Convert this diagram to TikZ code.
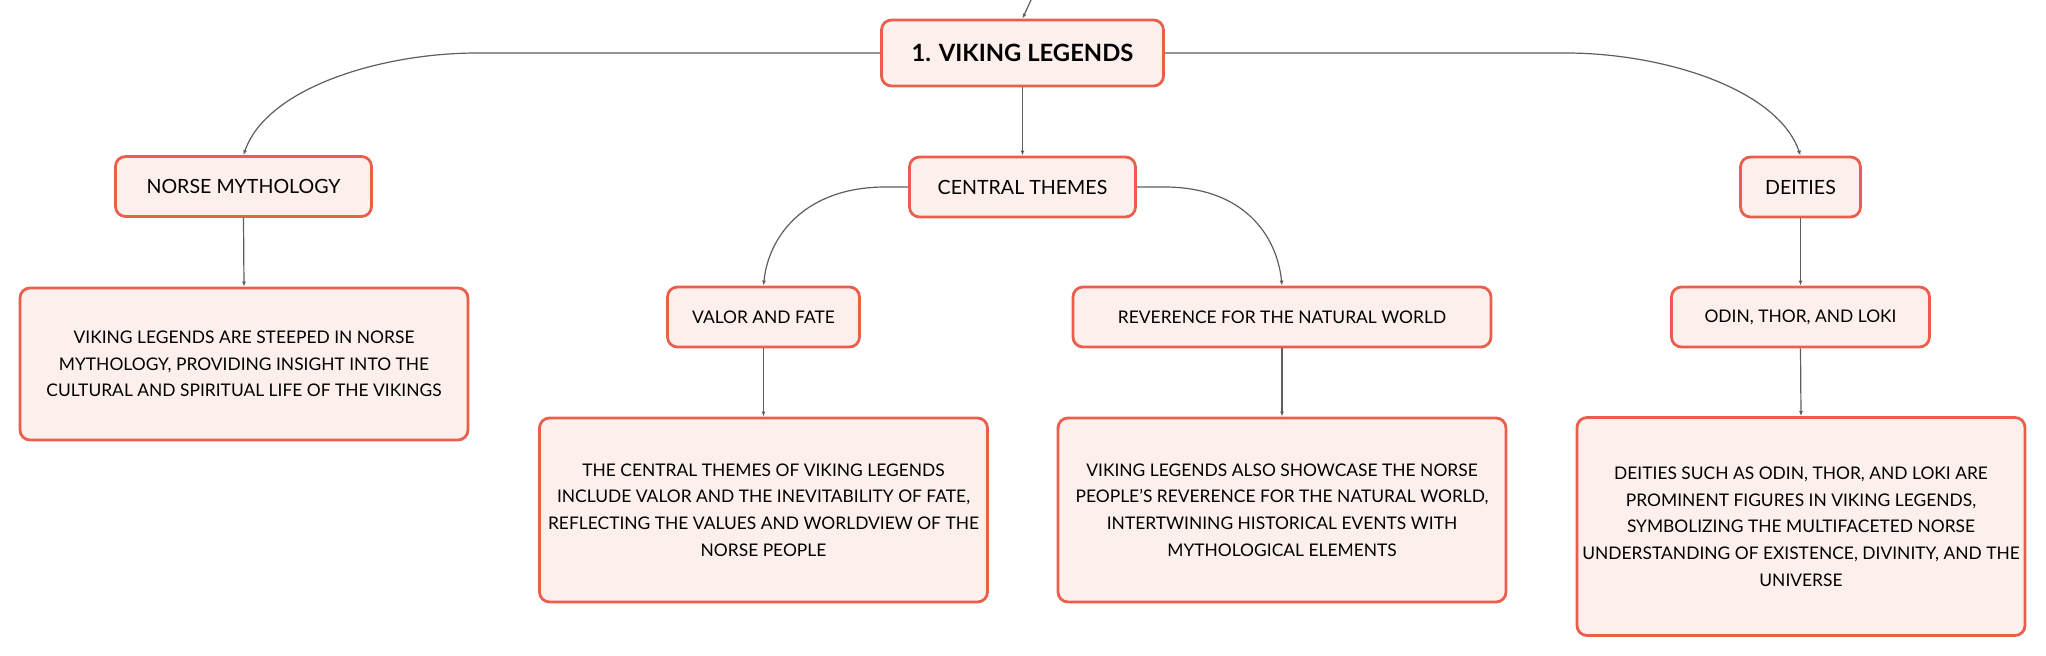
\documentclass[tikz,border=0pt]{standalone}
\usepackage{fontspec}
\setmainfont{Lato}
\usetikzlibrary{positioning, arrows.meta, calc}

\definecolor{boxline}{HTML}{EA5F4B}
\definecolor{boxfill}{HTML}{FDF0EC}
\definecolor{linkgray}{HTML}{5E5E5E}

\begin{document}
\begin{tikzpicture}[
            x=0.5pt, y=-0.5pt,
            block/.style={rectangle, draw=boxline, fill=boxfill, line width=1.4pt, rounded corners=5pt, inner sep=0pt, align=center, text=black},
            rootbox/.style={block, font=\fontsize{11.9}{14}\selectfont\bfseries},
            topic/.style={block, font=\fontsize{9.8}{13}\selectfont},
            leaf/.style={block, font=\fontsize{8.7}{13.35}\selectfont},
            arrow/.style={-{Latex[length=2.5pt, width=2pt]}, draw=linkgray, line width=0.6pt}
        ]
        \useasboundingbox (0,0) rectangle (2046,656);

        % Define the main topic and its branches
        \coordinate (up) at (1031,0);
        \node[rootbox, minimum width=141pt, minimum height=33pt] (legends) at (1022.5,53) {1. VIKING LEGENDS};
        \node[topic, minimum width=128pt, minimum height=30pt] (norse) at (243.5,186.5) {NORSE MYTHOLOGY};
        \node[topic, minimum width=113pt, minimum height=30pt] (themes) at (1022.5,187) {CENTRAL THEMES};
        \node[topic, minimum width=60pt, minimum height=30pt] (deities) at (1800.5,187) {DEITIES};

        % Second level
        \node[leaf, minimum width=96pt, minimum height=30pt] (valor) at (763.5,317) {VALOR AND FATE};
        \node[leaf, minimum width=209pt, minimum height=30pt] (nature) at (1282,317) {REVERENCE FOR THE NATURAL WORLD};
        \node[leaf, minimum width=129pt, minimum height=30pt] (gods) at (1800.5,317) {ODIN, THOR, AND LOKI};

        % Description boxes
        \node[leaf, minimum width=224pt, minimum height=76pt] (norsetext) at (244,364)
            {VIKING LEGENDS ARE STEEPED IN NORSE\\MYTHOLOGY, PROVIDING INSIGHT INTO THE\\CULTURAL AND SPIRITUAL LIFE OF THE VIKINGS};
        \node[leaf, minimum width=224pt, minimum height=92pt] (valortext) at (763.5,510)
            {THE CENTRAL THEMES OF VIKING LEGENDS\\INCLUDE VALOR AND THE INEVITABILITY OF FATE,\\REFLECTING THE VALUES AND WORLDVIEW OF THE\\NORSE PEOPLE};
        \node[leaf, minimum width=224pt, minimum height=92pt] (naturetext) at (1282,510)
            {VIKING LEGENDS ALSO SHOWCASE THE NORSE\\PEOPLE'S REVERENCE FOR THE NATURAL WORLD,\\INTERTWINING HISTORICAL EVENTS WITH\\MYTHOLOGICAL ELEMENTS};
        \node[leaf, minimum width=224pt, minimum height=109pt] (godstext) at (1801,526.5)
            {DEITIES SUCH AS ODIN, THOR, AND LOKI ARE\\PROMINENT FIGURES IN VIKING LEGENDS,\\SYMBOLIZING THE MULTIFACETED NORSE\\UNDERSTANDING OF EXISTENCE, DIVINITY, AND THE\\UNIVERSE};

        % Draw the connectors
        \draw[arrow] (up) -- (legends.north);
        \draw[arrow] (legends.west) -- ($(norse.north |- legends.west)+(234,0)$)
            .. controls +(-97,0) and +(23,-67) .. (norse.north);
        \draw[arrow] (legends.east) -- ($(deities.north |- legends.east)+(-235,0)$)
            .. controls +(97,0) and +(-23,-67) .. (deities.north);
        \draw[arrow] (legends.south) -- (themes.north);
        \draw[arrow] (themes.west) -- ($(valor.north |- themes.west)+(122,0)$)
            .. controls +(-80,0) and +(5,-50) .. (valor.north);
        \draw[arrow] (themes.east) -- ($(nature.north |- themes.east)+(-118,0)$)
            .. controls +(80,0) and +(-5,-50) .. (nature.north);
        \draw[arrow] (norse.south) -- (norsetext.north);
        \draw[arrow] (valor.south) -- (valortext.north);
        \draw[arrow] (nature.south) -- (naturetext.north);
        \draw[arrow] (deities.south) -- (gods.north);
        \draw[arrow] (gods.south) -- (godstext.north);
    \end{tikzpicture}
\end{document}
